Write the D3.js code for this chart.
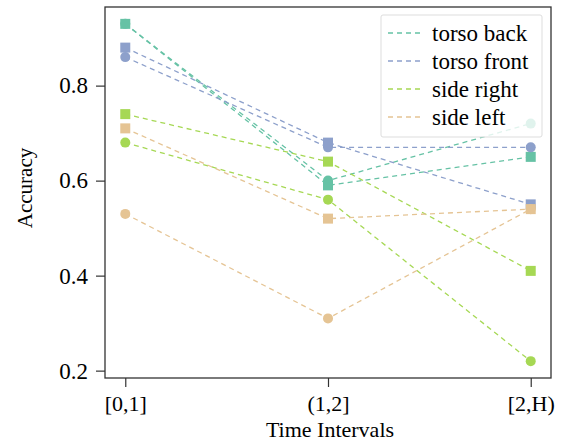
<!DOCTYPE html>
<html><head><meta charset="utf-8">
<script src="https://cdn.jsdelivr.net/npm/d3@7"></script>
<style>body{margin:0;background:#fff}svg{display:block}</style>
</head><body>
<script>
const categories = ["[0,1]", "(1,2]", "[2,H)"];
const seriesNames = ["torso back", "torso front", "side right", "side left"];
const colors = ["#66c2a5", "#8da0cb", "#a6d854", "#e5c494"];
// square-marker series
const squareValues = [
  [0.93, 0.59, 0.65],
  [0.88, 0.68, 0.55],
  [0.74, 0.64, 0.41],
  [0.71, 0.52, 0.54]
];
// circle-marker series
const circleValues = [
  [0.93, 0.60, 0.72],
  [0.86, 0.67, 0.67],
  [0.68, 0.56, 0.22],
  [0.53, 0.31, 0.54]
];
const yTicks = [0.2, 0.4, 0.6, 0.8];

const FONT = '"Liberation Serif", "DejaVu Serif", serif';
const W = 563, H = 443;
const m = {l:105, r:12, t:7, b:65};
const svg = d3.select("body").append("svg").attr("width", W).attr("height", H);
const iw = W - m.l - m.r, ih = H - m.t - m.b;
const g = svg.append("g").attr("transform", `translate(${m.l},${m.t})`);

const x = d3.scaleLinear().domain([-0.1, 2.1]).range([0, iw]);
const y = d3.scaleLinear().domain([0.1845, 0.9655]).range([ih, 0]);

const line = d3.line().x((d,i)=>x(i)).y(d=>y(d));
const ms = 10;

function drawSeries(vals, color, shape){
  g.append("path").datum(vals).attr("d", line).attr("fill","none")
    .attr("stroke", color).attr("stroke-width",1.3).attr("stroke-dasharray","5,4");
  if (shape === "square") {
    g.selectAll(null).data(vals).enter().append("rect")
      .attr("x",(d,i)=>x(i)-ms/2).attr("y",d=>y(d)-ms/2)
      .attr("width",ms).attr("height",ms).attr("fill",color);
  } else {
    g.selectAll(null).data(vals).enter().append("circle")
      .attr("cx",(d,i)=>x(i)).attr("cy",d=>y(d)).attr("r",ms/2).attr("fill",color);
  }
}
for (let k=0;k<4;k++){
  drawSeries(circleValues[k], colors[k], "circle");
  drawSeries(squareValues[k], colors[k], "square");
}

// axes
const xAxis = d3.axisBottom(x).tickValues([0,1,2]).tickFormat(i=>categories[i]).tickSize(9).tickPadding(8);
const yAxis = d3.axisLeft(y).tickValues(yTicks).tickFormat(d3.format(".1f")).tickSize(9).tickPadding(8);
const gx = g.append("g").attr("transform",`translate(0,${ih})`).call(xAxis);
const gy = g.append("g").call(yAxis);
[gx, gy].forEach(a=>{
  a.attr("font-family", null).attr("font-size", null);
  a.select(".domain").remove();
  a.selectAll("line").attr("stroke","#333").attr("stroke-width",1.2);
  a.selectAll("text").style("font-family", FONT).attr("fill","#000");
});
gy.selectAll("text").style("font-size","23px");
gx.selectAll("text").style("font-size","22px").attr("dy","0.71em");

// frame
g.append("rect").attr("x",0).attr("y",0).attr("width",iw).attr("height",ih)
  .attr("fill","none").attr("stroke","#333").attr("stroke-width",1.3);

// labels
svg.append("text").attr("x", 330).attr("y", 437).attr("text-anchor","middle")
  .style("font-family", FONT).style("font-size","22px").text("Time Intervals");
svg.append("text").attr("transform",`translate(32,188) rotate(-90)`)
  .attr("text-anchor","middle").style("font-family", FONT).style("font-size","21px").text("Accuracy");

// legend
const lg = svg.append("g");
lg.append("rect").attr("x",381).attr("y",15).attr("width",161).attr("height",122).attr("rx",2)
  .attr("fill","#fff").attr("fill-opacity",0.8).attr("stroke","#ddd").attr("stroke-width",1);
seriesNames.forEach((n,k)=>{
  const yy = 33 + k*28;
  lg.append("line").attr("x1",388).attr("x2",424).attr("y1",yy).attr("y2",yy)
    .attr("stroke",colors[k]).attr("stroke-width",1.3).attr("stroke-dasharray","5,4");
  lg.append("text").attr("x",432).attr("y",yy).attr("dy","0.35em")
    .style("font-family", FONT).style("font-size","23px").text(n);
});
</script>
</body></html>
